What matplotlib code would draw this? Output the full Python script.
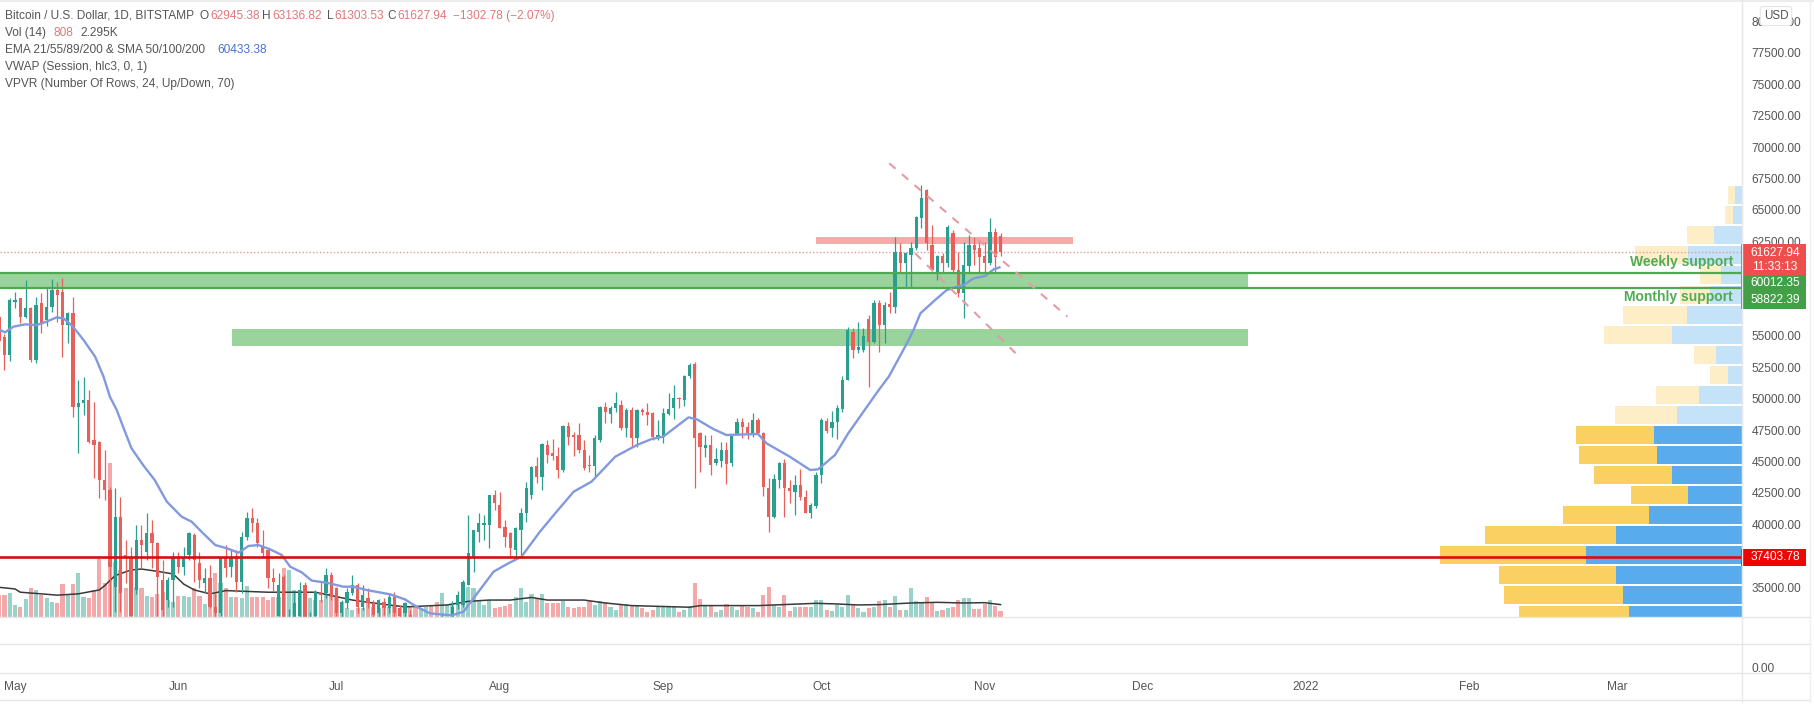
import matplotlib
matplotlib.use('Agg')
import matplotlib.dates as mdates
import matplotlib.pyplot as plt
import pandas as pd

plt.rcParams['font.family'] = ['Liberation Sans', 'DejaVu Sans']

# daily candles, 28 Apr - 4 Nov 2021
opens = [
    56500, 54900, 53470, 57700, 57970, 56515, 57180, 53070, 57575, 56250, 57310, 58635, 58500, 55850,
    56780, 49360, 49680, 49890, 46710, 46580, 43530, 42740, 35050, 40615, 37570, 37300, 34785, 38760,
    37830, 39290, 38500, 35580, 33990, 35580, 37300, 36640, 37570, 39160, 36905, 35370, 35710, 33460,
    32930, 37300, 36640, 37435, 35445, 39025, 40480, 40085, 38230, 37965, 35710, 32720, 35845, 31700,
    32500, 32720, 35180, 32000, 32720, 34650, 34520, 35980, 34920, 32930, 33725, 34520, 35180, 33460,
    34120, 33725, 32930, 33860, 33330, 34250, 33325, 32930, 32800, 31800, 31400, 31500, 31500, 30800,
    29800, 32100, 32100, 33600, 33600, 35180, 37435, 39420, 39950, 39950, 42340, 41545, 39820, 39290,
    37965, 39555, 40880, 42340, 44640, 43790, 46310, 45650, 45440, 44325, 47820, 47110, 47110, 45915,
    44720, 44640, 46710, 49360, 48780, 49225, 49490, 47640, 49095, 46840, 49095, 48960, 48830, 46840,
    46975, 48780, 49230, 50020, 49890, 51800, 52750, 47240, 46045, 46310, 44855, 45065, 45915, 44855,
    47185, 48170, 47715, 47295, 48300, 47240, 42870, 40615, 43530, 44910, 42870, 42600, 43130, 42200,
    40880, 41495, 43925, 48220, 47640, 48170, 49150, 51480, 55320, 53865, 53865, 56300, 54530, 57575,
    55850, 57500, 57310, 61680, 60755, 61420, 61950, 64330, 66585, 62210, 60095, 61340, 60755, 63140,
    60225, 58370, 60545, 62210, 61950, 61340, 60755, 63270, 62945]
highs = [
    56600, 55100, 58000, 58500, 58000, 59430, 57300, 58100, 58370, 58770, 59480, 59300, 59560, 56900,
    58100, 51480, 51750, 50690, 49760, 46600, 45920, 43000, 42870, 42200, 38760, 38230, 39955, 39955,
    40880, 40350, 38630, 37170, 35845, 37800, 37830, 38230, 39420, 39290, 37830, 36510, 36770, 34520,
    37435, 38360, 37965, 37965, 39420, 41015, 41280, 40480, 39555, 38100, 36510, 36110, 35980, 33300,
    34600, 35450, 35450, 33000, 34785, 35445, 36510, 36240, 35050, 33990, 34920, 35980, 35310, 35180,
    34920, 34000, 34060, 34120, 34520, 34650, 33590, 33860, 33200, 32250, 32000, 32400, 31900, 31000,
    32850, 32600, 33900, 34700, 35580, 40750, 39555, 40880, 40750, 42340, 42735, 42600, 40350, 39420,
    39820, 41280, 43400, 44640, 45385, 46445, 46710, 46760, 46180, 47900, 48170, 47370, 48035, 46710,
    45520, 47110, 49415, 49760, 49415, 50550, 49890, 49225, 49360, 49150, 49225, 49680, 48960, 48300,
    49230, 50420, 51080, 50150, 51880, 52860, 52940, 47370, 47105, 47105, 46050, 46580, 46580, 47160,
    48435, 48435, 48170, 48885, 48485, 47370, 43660, 44010, 44985, 45175, 43530, 43925, 44380, 42735,
    41725, 44190, 48435, 48435, 49000, 49490, 51800, 55720, 55590, 56120, 55590, 56650, 57840, 57840,
    57710, 58500, 62875, 62345, 61680, 62475, 64520, 66980, 66640, 63800, 61420, 61550, 63800, 63405,
    61680, 62470, 63010, 62820, 62475, 62475, 64330, 63540, 63136]
lows = [
    53900, 52275, 53000, 57180, 56050, 56400, 52900, 52800, 55190, 55800, 56900, 56120, 53335, 54400,
    48560, 45650, 48700, 46450, 43660, 42070, 41940, 30000, 33000, 33000, 35320, 31000, 34500, 36500,
    37170, 36500, 32720, 32700, 33460, 33460, 36110, 35980, 37170, 35450, 34920, 34520, 33320, 31000,
    32700, 35845, 35845, 34650, 34520, 38760, 39425, 38230, 37435, 34920, 34680, 32700, 31300, 28800,
    31700, 32300, 31300, 30000, 32000, 33860, 34120, 33990, 32700, 32660, 33320, 34400, 32940, 33195,
    33320, 32600, 32600, 32800, 32930, 32600, 31600, 31900, 31100, 31000, 31000, 31100, 30500, 29300,
    29500, 31700, 31800, 33300, 33400, 35180, 36240, 38630, 38760, 38100, 41145, 39690, 38230, 37435,
    37435, 37300, 40215, 42000, 43265, 42735, 44855, 45120, 43660, 44190, 46310, 45440, 45650, 44325,
    44190, 43795, 46580, 48035, 48035, 48960, 47505, 46975, 46235, 46180, 48700, 47900, 46710, 46710,
    46500, 48700, 48350, 49230, 49415, 51610, 42870, 44190, 45385, 43925, 44725, 44590, 43210, 44640,
    47105, 46840, 46765, 46975, 47105, 42260, 39425, 40480, 42870, 40615, 41675, 40750, 41940, 40880,
    40480, 41330, 43265, 47295, 46975, 46765, 48960, 51480, 53200, 53600, 53730, 50950, 54400, 53730,
    54400, 56780, 56780, 60100, 58770, 58770, 61815, 63540, 61815, 60170, 59430, 60100, 60490, 59960,
    58100, 56380, 60085, 60620, 60100, 60100, 60620, 60100, 61303]
closes = [
    54550, 53470, 57840, 57840, 56515, 57180, 53070, 57440, 55985, 57310, 58635, 58240, 55850, 56780,
    49360, 49625, 49890, 46580, 46310, 43530, 42740, 36640, 40615, 34520, 37300, 32720, 38760, 38360,
    39290, 38500, 35845, 33200, 35580, 37300, 36640, 37435, 39290, 37170, 35580, 35710, 33460, 32930,
    37300, 36510, 37300, 35445, 39025, 40480, 40085, 38500, 37700, 35710, 35445, 35180, 31700, 32550,
    33725, 34785, 32000, 32200, 34650, 34390, 35980, 34250, 32930, 33860, 34650, 35180, 33460, 34390,
    33725, 32800, 33990, 33330, 34250, 32930, 32700, 33725, 31800, 31400, 31500, 31500, 30800, 29800,
    32100, 32300, 33450, 34390, 35450, 37700, 39555, 40085, 40085, 42340, 41675, 39690, 39025, 38100,
    39690, 40880, 42870, 44590, 43790, 46390, 45520, 45440, 44325, 47820, 46975, 46975, 45915, 44455,
    44640, 46840, 49360, 48960, 49225, 49680, 47640, 49095, 46840, 49095, 48960, 48700, 46975, 47110,
    48880, 49150, 50020, 49940, 51800, 52670, 46840, 46180, 46310, 44720, 45175, 45915, 44800, 47105,
    48170, 47715, 47295, 48300, 47240, 43000, 40615, 43585, 44910, 42870, 42680, 43130, 42150, 40930,
    41545, 43925, 48300, 47450, 48170, 49225, 51480, 55455, 53865, 54130, 54980, 54530, 57575, 55850,
    57440, 57310, 61680, 60755, 61550, 61950, 64465, 65920, 62345, 60225, 61340, 60755, 63670, 60225,
    58370, 60620, 62210, 61815, 61285, 60755, 63270, 61285, 61627]

# volume (BTC) and its 14 period average
volumes = [
    3300, 3300, 3700, 1800, 1500, 2650, 4350, 4100, 3300, 2800, 2300, 2050, 4950, 3300,
    4950, 6750, 3050, 2800, 4100, 8900, 5100, 23500, 8400, 7100, 4350, 3800, 4600, 4350,
    3150, 3050, 3550, 3800, 2550, 2300, 3150, 3150, 3050, 4350, 3150, 1950, 3450, 6650,
    5100, 4350, 3050, 2950, 2800, 4700, 3050, 3050, 2950, 2550, 3050, 3050, 7400, 7150,
    4100, 4100, 4600, 2800, 2550, 2550, 3550, 3650, 3050, 2300, 1300, 1000, 1300, 1300,
    2050, 1500, 1300, 1300, 1500, 1800, 1300, 2050, 1500, 1500, 1300, 1500, 1800, 2300,
    3650, 1800, 1800, 2050, 2800, 4600, 4350, 2550, 1800, 2550, 1300, 1500, 1700, 1950,
    3050, 4350, 2300, 3550, 2800, 3550, 2050, 2050, 2050, 2450, 1500, 1300, 1500, 1500,
    2450, 1800, 2450, 2300, 1450, 1000, 1950, 1950, 1800, 1800, 1300, 750, 1000, 1650,
    1650, 1650, 1500, 750, 1000, 1650, 5100, 2650, 1800, 1800, 750, 1000, 1950, 1450,
    1100, 1650, 1450, 1300, 750, 3300, 4500, 1800, 1500, 3300, 900, 1450, 1500, 1500,
    1500, 2550, 2550, 1000, 850, 1800, 1500, 3300, 1950, 1300, 750, 1300, 1450, 2400,
    2550, 1500, 3150, 1000, 1000, 4350, 2400, 2050, 2950, 2300, 900, 1000, 1300, 1500,
    2550, 2900, 2900, 1150, 1150, 1950, 2550, 1650, 808]
vol_ma_days = [-3, 0, 1, 5, 8, 12, 16, 17, 19, 22, 24, 27, 30, 32, 34, 37, 40, 48, 57, 60, 64, 67, 74, 82,
               86, 90, 94, 98, 101, 108, 112, 117, 128, 130, 141, 152, 156, 160, 164, 170, 175, 180, 184, 187]
vol_ma = [4500, 4250, 3750, 3500, 3300, 3500, 4100, 4750, 6300, 7150, 7300, 6950, 6550, 5000, 4100, 3500,
          4000, 3750, 3750, 3250, 2550, 2200, 1500, 1800, 2350, 2550, 2550, 2950, 2550, 2550, 2100, 1700,
          1450, 1700, 1700, 2050, 1950, 1800, 1850, 2100, 2200, 2100, 2150, 1850]

# EMA 21, sampled along the curve
ema_days = [-2.85, -1.9, -0.3, 1.9, 4.1, 6, 7.9, 9.2, 11, 13, 15.2, 16.8, 18, 19.3, 20.5, 22.1, 24.3, 26.5, 28.8,
            31.6, 33.5, 35.7, 38, 40.2, 42.4, 44.3, 46.2, 48.4, 50.6, 52.2, 54.4, 56.3, 59.1, 62.3, 64.2, 66.7,
            71.2, 74, 76.2, 78.75, 82.9, 85.1, 87, 90.8, 93.6, 96.1, 99.6, 102.5, 106, 109.4, 113.9, 118, 120.8,
            123, 127.8, 129.4, 132.5, 135, 141, 142.6, 147, 150.9, 152.4, 155.6, 158.1, 163.9, 165.8, 168.9,
            170.5, 171.8, 174.6, 176.8, 178.4, 180, 181.9, 184.1, 185.7, 186.8]
ema_vals = [55455, 55270, 55720, 55905, 55850, 56120, 56460, 56380, 55720, 54660, 53335, 51745, 50155, 49095,
            47770, 46050, 44720, 43530, 41810, 40615, 40220, 39290, 38360, 38100, 37750, 38285, 38360, 38020,
            37570, 36640, 36190, 35530, 35370, 35050, 35050, 34785, 34440, 34040, 33460, 32930, 32770, 33060,
            34120, 36240, 36905, 37435, 39420, 40880, 42600, 43400, 45385, 46310, 46790, 46975, 48510, 48350,
            47585, 47105, 47190, 46445, 45385, 44325, 44380, 45520, 47240, 50685, 51745, 54130, 55455, 56780,
            57840, 58635, 58850, 59030, 59560, 59750, 60280, 60433]

# volume profile rows
vp_prices = [66185, 64595, 63005, 61415, 59825, 58235, 56645, 55055, 53465, 51875, 50285, 48695, 47105, 45515,
             43925, 42335, 40745, 39155, 37565, 35975, 34385, 32795]
vp_up = [7, 9, 28, 54, 21, 32, 55, 70, 26, 14, 43, 65, 88, 85, 70, 54, 93, 126, 156, 126, 119, 113]
vp_down = [7, 8, 27, 53, 21, 30, 64, 68, 22, 18, 43, 62, 78, 78, 78, 57, 86, 131, 146, 117, 119, 110]

month_dates = ['2021-05-01', '2021-06-01', '2021-07-01', '2021-08-01', '2021-09-01', '2021-10-01',
               '2021-11-01', '2021-12-01', '2022-01-01', '2022-02-01', '2022-03-01']
month_labels = ['May', 'Jun', 'Jul', 'Aug', 'Sep', 'Oct', 'Nov', 'Dec', '2022', 'Feb', 'Mar']
price_ticks = [35000, 40000, 42500, 45000, 47500, 50000, 52500, 55000, 62500, 65000, 67500, 70000, 72500,
               75000, 77500, 80000]

weekly_support = 60012.35
monthly_support = 58822.39
last_close = 61627.94
red_level = 37403.78

# ── layout in pixels ─────────────────────────────────────
W, H = 1814, 705
AXIS_X = 1742
PANE_BOTTOM = 616.7
TOP = 3
GREEN = '#2a9f8f'
RED = '#e8605a'
VOL_GREEN = '#98d2c9'
VOL_RED = '#f3a9a9'
TEXT = '#555555'
LABEL_SIZE = 8.6

fig = plt.figure(figsize=(W / 100, H / 100), dpi=100, facecolor='white')
rect = [0, 1 - PANE_BOTTOM / H, AXIS_X / W, (PANE_BOTTOM - TOP) / H]


def day(offset):
    return mdates.date2num(pd.Timestamp('2021-05-01') + pd.Timedelta(days=offset))


dates = pd.date_range('2021-04-28', periods=len(closes))
xs = mdates.date2num(dates)
xlim = (day(-2.85), day(327.7))

# volume pane behind the candles
ax_vol = fig.add_axes(rect, zorder=1)
ax_vol.bar(xs, volumes, width=0.78,
           color=[VOL_GREEN if c >= o else VOL_RED for o, c in zip(opens, closes)])
ax_vol.plot([day(d) for d in vol_ma_days], vol_ma, color='#3a3a3a', lw=1.1)
ax_vol.set_xlim(xlim)
ax_vol.set_ylim(0, 94000)
ax_vol.axis('off')

# volume profile, grows from the right edge
ax_vp = fig.add_axes(rect, zorder=1)
vp_alpha = [0.35] * 12 + [1.0] * 10
for p, u, d, a in zip(vp_prices, vp_up, vp_down, vp_alpha):
    ax_vp.barh(p, u, height=1480, color='#58aced', alpha=a, lw=0)
    ax_vp.barh(p, d, left=u, height=1480, color='#fbd062', alpha=a, lw=0)
ax_vp.set_xlim(AXIS_X, 0)
ax_vp.set_ylim(32663, 81450)
ax_vp.axis('off')

# price pane
ax = fig.add_axes(rect, zorder=2)
ax.patch.set_visible(False)

ax.fill_between([day(-10), day(234)], monthly_support, weekly_support, color='#9ad39c', lw=0, zorder=1)
ax.fill_between([day(41.2), day(234)], 54207, 55535, color='#9ad39c', lw=0, zorder=1)
ax.fill_between([day(152), day(200.7)], 62290, 62870, color='#f9aaa8', lw=0, zorder=1)

colors = [GREEN if c >= o else RED for o, c in zip(opens, closes)]
ax.vlines(xs, lows, highs, colors=colors, lw=0.9, zorder=3)
ax.bar(xs, [abs(c - o) for o, c in zip(opens, closes)], bottom=[min(o, c) for o, c in zip(opens, closes)],
       width=0.62, color=colors, lw=0, zorder=3)

ax.plot([day(d) for d in ema_days], ema_vals, color='#8299dd', lw=1.7, zorder=4)

ax.axhline(weekly_support, color='#4ea852', lw=1.6, zorder=4)
ax.axhline(monthly_support, color='#4ea852', lw=1.6, zorder=4)
ax.axhline(red_level, color='#d80d0d', lw=1.9, zorder=5)
ax.axhline(last_close, color='#d9a0a0', lw=1, ls=(0, (1, 1.5)), zorder=2)

ax.plot([day(165.9), day(199.7)], [68705, 56515], color='#e59aa6', lw=1.5, ls=(0, (4, 4)), zorder=5)
ax.plot([day(170.8), day(190.4)], [61550, 53390], color='#e59aa6', lw=1.5, ls=(0, (4, 4)), zorder=5)

ax.set_xlim(xlim)
ax.set_ylim(32663, 81450)
for side in ['top', 'left', 'bottom']:
    ax.spines[side].set_visible(False)
ax.spines['right'].set_color('#e8e8e8')
ax.yaxis.tick_right()
ax.set_yticks(price_ticks)
ax.set_yticklabels([f'{t:.2f}' for t in price_ticks])
ax.tick_params(axis='y', length=0, pad=7, labelsize=LABEL_SIZE, labelcolor=TEXT)
ax.set_xticks([mdates.date2num(pd.Timestamp(m)) for m in month_dates])
ax.set_xticklabels(month_labels)
ax.tick_params(axis='x', length=0, pad=46, labelsize=LABEL_SIZE, labelcolor=TEXT)

# overlay in pixel coordinates: header, price tags, pane rules
ov = fig.add_axes([0, 0, 1, 1], zorder=3)
ov.set_xlim(0, W)
ov.set_ylim(H, 0)
ov.axis('off')

for y in [616.7, 644, 673, 700]:
    ov.plot([0, 1810], [y, y], color='#e6e6e6', lw=1)
ov.plot([0, W], [0.5, 0.5], color='#ececec', lw=1.5)
ov.plot([AXIS_X, AXIS_X], [0, 702], color='#e8e8e8', lw=1)
ov.plot([1810, 1810], [0, 702], color='#efefef', lw=1)


def hdr(x, y, s, color=TEXT):
    ov.text(x, y, s, color=color, fontsize=LABEL_SIZE, ha='left', va='center')


VAL = '#e0777a'
hdr(5, 16, 'Bitcoin / U.S. Dollar, 1D, BITSTAMP')
for x, s in [(199, 'O'), (262, 'H'), (327, 'L'), (387, 'C')]:
    hdr(x, 16, s)
for x, s in [(210, '62945.38'), (272, '63136.82'), (334, '61303.53'), (397, '61627.94'),
             (453, '\u22121302.78 (\u22122.07%)')]:
    hdr(x, 16, s, VAL)
hdr(5, 33, 'Vol (14)')
hdr(54, 33, '808', VAL)
hdr(80, 33, '2.295K')
hdr(5, 50, 'EMA 21/55/89/200 & SMA 50/100/200')
hdr(217, 50, '60433.38', '#4a74c9')
hdr(5, 67, 'VWAP (Session, hlc3, 0, 1)')
hdr(5, 84, 'VPVR (Number Of Rows, 24, Up/Down, 70)')

ov.text(1733, 262, 'Weekly support', color='#52ab56', fontsize=10, fontweight='bold', ha='right', va='center')
ov.text(1733, 297, 'Monthly support', color='#52ab56', fontsize=10, fontweight='bold', ha='right', va='center')


def tag(y0, y1, color, lines):
    ov.fill_between([1741, 1806], y0, y1, color=color, lw=0)
    for yt, s in lines:
        ov.text(1775, yt, s, color='white', fontsize=LABEL_SIZE, ha='center', va='center')


tag(244, 275, '#ee4f4d', [(252.5, '61627.94'), (266.5, '11:33:13')])
tag(275, 309, '#43a047', [(283, '60012.35'), (300, '58822.39')])
tag(549, 566, '#ee0505', [(557, '37403.78')])

ov.text(1752, 669, '0.00', color=TEXT, fontsize=LABEL_SIZE, ha='left', va='center')
ov.text(1776, 16, 'USD', color=TEXT, fontsize=8.4, ha='center', va='center',
        bbox=dict(boxstyle='round,pad=0.3', fc='white', ec='#e4e4e4', lw=0.8))

fig.savefig('out.png', dpi=100)
